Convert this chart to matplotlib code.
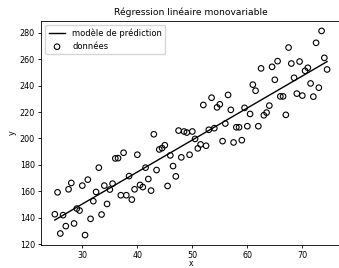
import numpy as np
import matplotlib
matplotlib.use("Agg")
import matplotlib.pyplot as plt

x_vals = [25.0, 25.5, 26.0, 26.5, 27.0, 27.5, 28.0, 28.5, 29.0, 29.5,
          30.0, 30.5, 31.0, 31.5, 32.0, 32.5, 33.0, 33.5, 34.0, 34.5,
          35.0, 35.5, 36.0, 36.5, 37.0, 37.5, 38.0, 38.5, 39.0, 39.5,
          40.0, 40.5, 41.0, 41.5, 42.0, 42.5, 43.0, 43.5, 44.0, 44.5,
          45.0, 45.5, 46.0, 46.5, 47.0, 47.5, 48.0, 48.5, 49.0, 49.5,
          50.0, 50.5, 51.0, 51.5, 52.0, 52.5, 53.0, 53.5, 54.0, 54.5,
          55.0, 55.5, 56.0, 56.5, 57.0, 57.5, 58.0, 58.5, 59.0, 59.5,
          60.0, 60.5, 61.0, 61.5, 62.0, 62.5, 63.0, 63.5, 64.0, 64.5,
          65.0, 65.5, 66.0, 66.5, 67.0, 67.5, 68.0, 68.5, 69.0, 69.5,
          70.0, 70.5, 71.0, 71.5, 72.0, 72.5, 73.0, 73.5, 74.0, 74.5]
y_vals = [142.6, 159.2, 128.0, 141.9, 133.6, 161.5, 166.3, 135.6, 146.9, 145.4,
          164.3, 126.8, 168.8, 139.1, 152.5, 159.5, 177.9, 142.4, 164.3, 150.4,
          161.3, 165.8, 184.9, 185.1, 157.0, 189.2, 157.0, 171.5, 153.7, 161.5,
          187.7, 164.8, 163.2, 177.9, 169.3, 160.5, 203.2, 176.1, 191.7, 192.7,
          194.9, 164.0, 187.2, 179.1, 171.3, 206.0, 185.7, 205.3, 204.5, 187.7,
          205.3, 199.7, 192.5, 195.5, 225.4, 194.5, 206.6, 230.9, 207.8, 223.6,
          225.9, 198.0, 211.3, 233.0, 221.7, 197.0, 208.5, 208.5, 198.7, 223.2,
          209.3, 218.6, 240.8, 236.2, 209.3, 253.1, 217.6, 219.6, 224.9, 254.3,
          244.5, 258.6, 231.9, 231.9, 217.9, 268.9, 256.8, 246.0, 234.0, 258.3,
          232.5, 251.3, 253.6, 241.7, 231.7, 272.5, 238.5, 281.5, 261.1, 252.3]

title = "Régression linéaire monovariable"
line_label = "modèle de prédiction"
data_label = "données"

x = np.array(x_vals)
y = np.array(y_vals)
slope, intercept = np.polyfit(x, y, 1)
y_pred = slope * x + intercept

fig = plt.figure(figsize=(3.39, 2.68), dpi=100)
ax = fig.add_axes([0.1215, 0.0847, 0.8835, 0.838])
ax.plot(x, y_pred, color="black", lw=1.0, label=line_label)
ax.scatter(x, y, s=16, facecolors="none", edgecolors="black", linewidths=0.8, label=data_label)
ax.set_title(title, fontsize=6.6, pad=4)
ax.set_xlabel("x", fontsize=5.5, labelpad=-0.8)
ax.set_ylabel("y", fontsize=5.8, labelpad=2)
ax.tick_params(labelsize=5.8, length=2.5, width=0.6, pad=2)
ax.tick_params(axis="x", pad=1.5)
for s in ax.spines.values():
    s.set_linewidth(0.6)
ax.legend(loc="upper left", fontsize=6, frameon=True)
fig.savefig("out.png", dpi=100)
